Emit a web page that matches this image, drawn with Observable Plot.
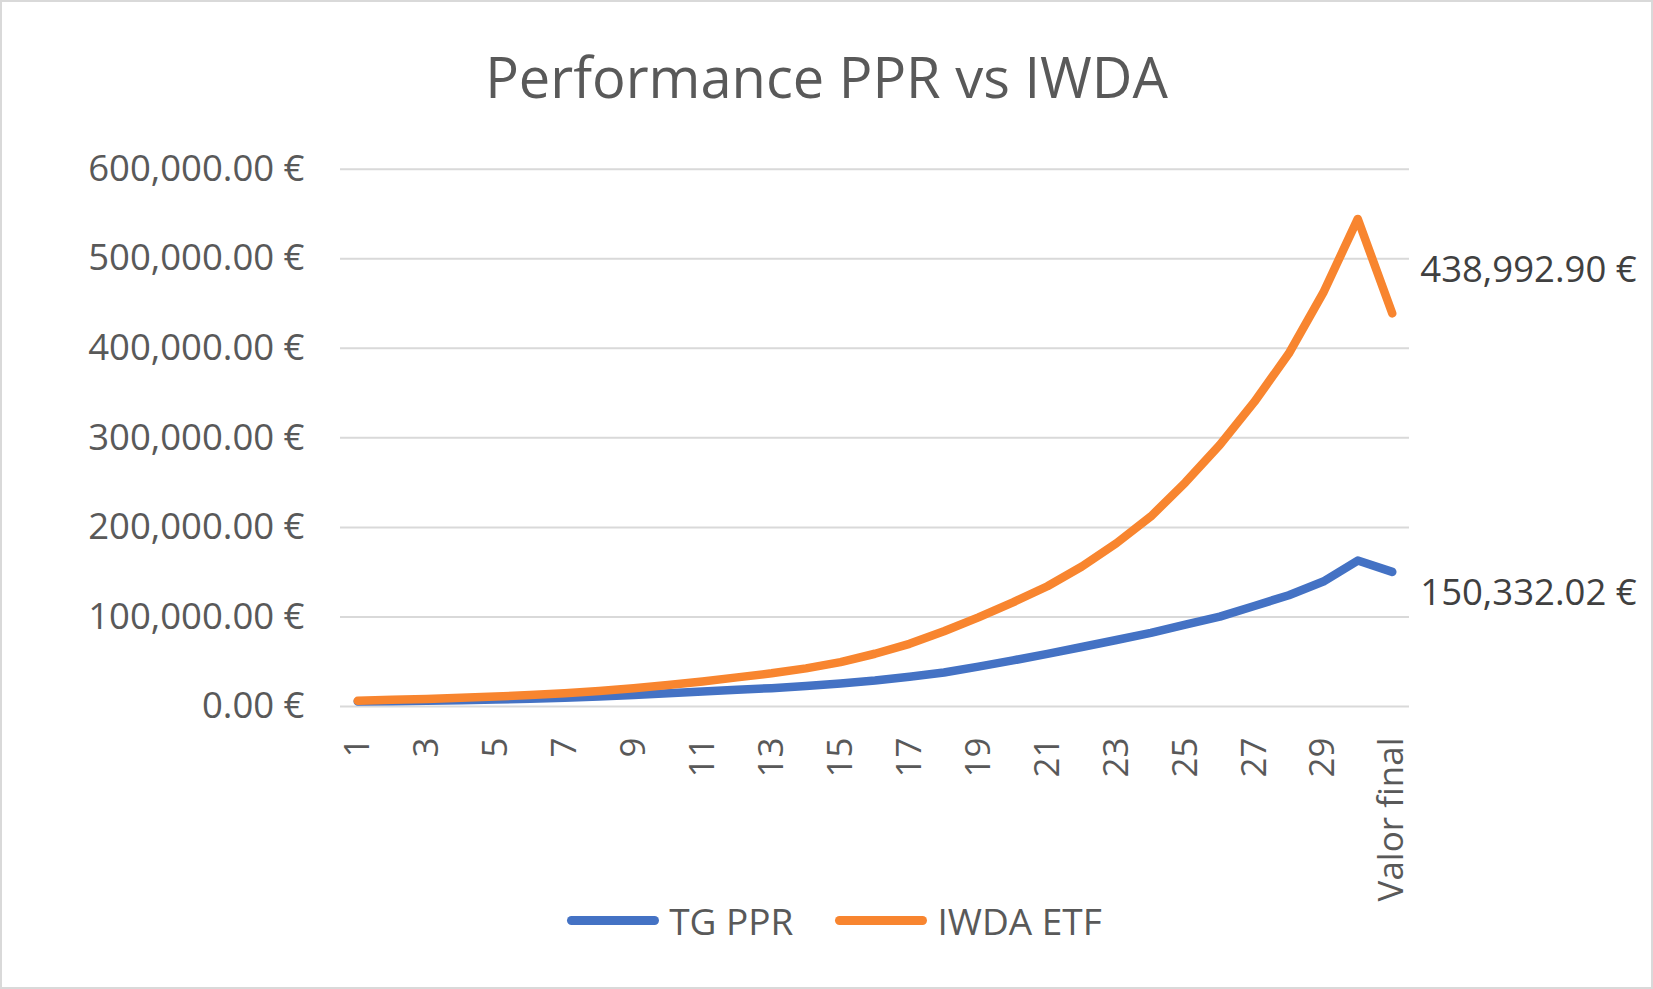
<!DOCTYPE html>
<html><head><meta charset="utf-8">
<script src="https://cdn.jsdelivr.net/npm/d3@7"></script>
<script src="https://cdn.jsdelivr.net/npm/@observablehq/plot@0.6"></script>
<style>
html,body{margin:0;padding:0;background:#fff;}
#frame{position:relative;width:1653px;height:989px;background:#fff;font-family:"Open Sans",sans-serif;overflow:hidden;}
#border{position:absolute;left:0;top:0;right:0;bottom:0;border:2px solid #d9d9d9;pointer-events:none;}
#title{position:absolute;left:0;top:48px;width:100%;text-align:center;font-size:56px;line-height:56px;color:#595959;}
#chart{position:absolute;left:0;top:140px;}
#legend{position:absolute;left:8px;top:900px;width:100%;height:40px;display:flex;justify-content:center;align-items:center;font-size:37px;color:#595959;}
.item{display:flex;align-items:center;margin:0 21px;}
.sw{width:92px;height:9px;border-radius:4.5px;margin-right:10px;}
</style></head>
<body>
<div id="frame">
  <div id="title">Performance PPR vs IWDA</div>
  <div id="chart"></div>
  <div id="legend"></div>
  <div id="border"></div>
</div>
<script>
const categories = ["1","2","3","4","5","6","7","8","9","10","11","12","13","14","15","16","17","18","19","20","21","22","23","24","25","26","27","28","29","30","Valor final"];
const xTickLabels = ["1","3","5","7","9","11","13","15","17","19","21","23","25","27","29","Valor final"];
const yTicks = [0, 100000, 200000, 300000, 400000, 500000, 600000];
const seriesNames = ["TG PPR", "IWDA ETF"];
const seriesColors = ["#4472C4", "#F8852F"];
const tgPPR = [5600, 6000, 6500, 7100, 7800, 8600, 9900, 11200, 12800, 14700, 16700, 18600, 20500, 23000, 25700, 29000, 33200, 38000, 44500, 51500, 58800, 66400, 74300, 82300, 91500, 100300, 112300, 124300, 139500, 163000, 150332.02];
const iwdaETF = [6300, 7400, 8500, 9700, 11100, 12900, 14900, 17400, 20300, 23900, 28000, 32500, 37100, 42600, 49600, 58900, 70000, 84000, 99500, 116300, 134300, 156300, 182300, 212200, 250200, 292200, 340100, 394100, 462100, 544500, 438992.90];

const rows = [];
categories.forEach((c, i) => {
  rows.push({cat: c, series: seriesNames[0], value: tgPPR[i]});
});
categories.forEach((c, i) => {
  rows.push({cat: c, series: seriesNames[1], value: iwdaETF[i]});
});
const last = categories.length - 1;
const lastBlue = [{cat: categories[last], value: tgPPR[last]}];
const lastOrange = [{cat: categories[last], value: iwdaETF[last]}];

const euro = v => d3.format(",.2f")(v) + " €";

const chart = Plot.plot({
  width: 1653,
  height: 760,
  marginLeft: 340,
  marginRight: 244,
  marginTop: 28.7,
  marginBottom: 194,
  style: {fontFamily: "'Open Sans', sans-serif", background: "transparent", overflow: "visible"},
  x: {type: "point", domain: categories, padding: 0.5, round: false, axis: null},
  y: {domain: [0, 600000], axis: null},
  color: {domain: seriesNames, range: seriesColors},
  marks: [
    Plot.gridY(yTicks, {stroke: "#d9d9d9", strokeOpacity: 1, strokeWidth: 2}),
    Plot.axisY(yTicks, {tickSize: 0, tickPadding: 36, tickFormat: euro, fontSize: 36.5, fill: "#595959", label: null}),
    Plot.axisX(xTickLabels, {tickSize: 0, tickPadding: 31, tickRotate: -90, fontSize: 35, fill: "#595959", label: null}),
    Plot.line(rows, {x: "cat", y: "value", stroke: "series", z: "series", strokeWidth: 8.5, strokeLinecap: "round", strokeLinejoin: "round"}),
    Plot.text(lastOrange, {x: "cat", y: "value", text: d => euro(d.value), dx: 28, dy: -43, textAnchor: "start", fontSize: 36.5, fill: "#404040"}),
    Plot.text(lastBlue, {x: "cat", y: "value", text: d => euro(d.value), dx: 28, dy: 21, textAnchor: "start", fontSize: 36.5, fill: "#404040"})
  ]
});
document.getElementById("chart").appendChild(chart);

const legend = document.getElementById("legend");
seriesNames.forEach((name, i) => {
  const item = document.createElement("div");
  item.className = "item";
  const sw = document.createElement("div");
  sw.className = "sw";
  sw.style.background = seriesColors[i];
  const label = document.createElement("span");
  label.textContent = name;
  item.appendChild(sw);
  item.appendChild(label);
  legend.appendChild(item);
});
</script>
</body></html>
